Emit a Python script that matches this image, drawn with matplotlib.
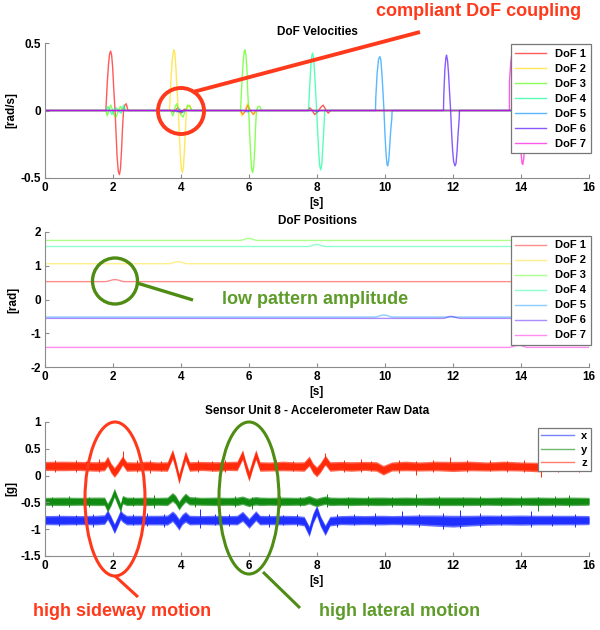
import numpy as np
import matplotlib
matplotlib.use("Agg")
import matplotlib.pyplot as plt
from matplotlib.patches import Ellipse

plt.rcParams['font.family'] = ['Liberation Sans', 'DejaVu Sans']
plt.rcParams['font.weight'] = 'bold'
plt.rcParams['axes.unicode_minus'] = False

# ---------------- data ----------------
dof_labels = ['DoF 1', 'DoF 2', 'DoF 3', 'DoF 4', 'DoF 5', 'DoF 6', 'DoF 7']
# MATLAB hsv(7)
dof_colors = [(1, 0, 0), (1, 0.857, 0), (0.286, 1, 0), (0, 1, 0.571),
              (0, 0.571, 1), (0.286, 0, 1), (1, 0, 0.857)]

# DoF velocities [rad/s]
vel1_t = [0, 1.79, 1.83, 1.87, 1.90, 1.93, 1.96, 1.99, 2.02, 2.06, 2.09, 2.12, 2.155, 2.19, 2.22, 2.25, 2.28, 2.31,
          2.35, 2.39, 2.44, 3.70, 3.80, 3.90, 4.00, 4.10, 4.20, 5.75, 5.81, 5.88, 5.96, 6.04, 6.13, 6.20,
          7.72, 7.79, 7.86, 7.93, 8.02, 8.10, 8.18, 8.25, 8.33, 8.40, 16]
vel1_v = [0, 0, 0.2, 0.35, 0.42, 0.44, 0.41, 0.32, 0.17, 0, -0.17, -0.34, -0.45, -0.475, -0.43, -0.3, -0.13, 0,
          0.04, 0.05, 0, 0, -0.01, 0.02, -0.02, 0.01, 0, 0, -0.03, -0.01, 0.04, 0.0, -0.03, 0,
          0, 0.02, 0.0, -0.03, -0.01, 0.02, 0.04, 0.01, -0.02, 0, 0]

vel2_t = [0, 3.66, 3.70, 3.74, 3.77, 3.79, 3.82, 3.85, 3.88, 3.92, 3.95, 3.98, 4.01, 4.04, 4.07, 4.10, 4.13, 4.16,
          4.21, 4.26, 4.31, 5.75, 5.79, 5.88, 5.96, 6.04, 6.13, 6.20, 16]
vel2_v = [0, 0, 0.2, 0.37, 0.43, 0.45, 0.42, 0.32, 0.17, 0, -0.17, -0.33, -0.43, -0.46, -0.42, -0.3, -0.14, 0,
          0.03, 0.04, 0, 0, -0.04, 0.0, 0.05, 0.0, -0.03, 0, 0]

vel3_t = [0, 1.79, 1.83, 1.88, 1.93, 1.98, 2.04, 2.10, 2.16, 2.22, 2.28,
          3.70, 3.76, 3.82, 3.87, 3.93, 3.99, 4.06, 4.13, 4.20, 4.26, 4.32,
          5.75, 5.79, 5.83, 5.86, 5.88, 5.91, 5.94, 5.96, 5.99, 6.02, 6.05, 6.08, 6.11, 6.14, 6.17, 6.19, 6.22,
          6.27, 6.32, 6.37, 16]
vel3_v = [0, 0, -0.04, 0.0, 0.04, 0.01, -0.04, -0.045, 0.0, 0.03, 0,
          0, -0.04, 0.02, 0.05, 0.01, -0.03, -0.05, 0.0, 0.04, 0.03, 0,
          0, 0.2, 0.37, 0.44, 0.45, 0.41, 0.3, 0.15, 0, -0.17, -0.33, -0.44, -0.46, -0.41, -0.28, -0.14, 0,
          0.03, 0.03, 0, 0]

vel4_t = [0, 1.80, 1.85, 1.91, 1.97, 2.03, 2.09, 2.16, 2.24, 2.31, 2.37,
          7.75, 7.79, 7.82, 7.85, 7.87, 7.90, 7.93, 7.96, 7.99, 8.02, 8.05, 8.08, 8.11, 8.14, 8.17, 8.20, 8.23, 16]
vel4_v = [0, 0, 0.03, 0.0, -0.03, 0.0, 0.02, 0.0, -0.02, 0.04, 0,
          0, 0.2, 0.34, 0.41, 0.425, 0.39, 0.28, 0.14, 0, -0.16, -0.31, -0.41, -0.44, -0.4, -0.28, -0.14, 0, 0]

vel5_t = [0, 3.80, 3.88, 3.96, 4.04, 4.12, 5.85, 5.95, 6.05, 7.90, 8.00, 8.10,
          9.72, 9.73, 9.77, 9.81, 9.85, 9.88, 9.91, 9.94, 9.97, 10.00, 10.03, 10.06, 10.08, 10.11, 10.14,
          10.17, 10.20, 10.21, 16]
vel5_v = [0, 0, -0.01, 0.01, -0.015, 0, 0, -0.01, 0, 0, -0.01, 0,
          0, 0.1, 0.28, 0.38, 0.40, 0.37, 0.27, 0.14, 0, -0.18, -0.32, -0.40, -0.41, -0.37, -0.26,
          -0.14, -0.06, 0, 0]

vel6_t = [0, 3.85, 3.95, 4.05, 11.72, 11.73, 11.76, 11.79, 11.81, 11.84, 11.87, 11.90, 11.93, 11.96, 11.99,
          12.02, 12.06, 12.09, 12.12, 12.15, 12.18, 12.19, 16]
vel6_v = [0, 0, -0.01, 0, 0, 0.12, 0.3, 0.39, 0.41, 0.37, 0.27, 0.13, 0, -0.17, -0.3,
          -0.38, -0.41, -0.39, -0.3, -0.17, -0.07, 0, 0]

vel7_t = [0, 13.66, 13.662, 13.70, 13.73, 13.76, 13.79, 13.82, 13.86, 13.90, 13.94, 13.97, 14.00, 14.03,
          14.05, 14.08, 14.11, 14.14, 14.17, 16]
vel7_v = [0, 0, 0.22, 0.36, 0.42, 0.38, 0.40, 0.33, 0.19, 0.06, 0, -0.17, -0.31, -0.39,
          -0.40, -0.36, -0.25, -0.12, 0, 0]

# DoF positions [rad]
pos1_t = [0, 1.79, 1.86, 1.93, 2.00, 2.06, 2.12, 2.19, 2.25, 2.31, 16]
pos1_v = [0.53, 0.53, 0.545, 0.565, 0.585, 0.59, 0.585, 0.565, 0.545, 0.53, 0.53]
pos2_t = [0, 3.66, 3.72, 3.79, 3.86, 3.92, 3.98, 4.04, 4.10, 4.16, 16]
pos2_v = [1.06, 1.06, 1.075, 1.095, 1.115, 1.12, 1.115, 1.095, 1.075, 1.06, 1.06]
pos3_t = [0, 5.75, 5.81, 5.87, 5.93, 5.99, 6.05, 6.11, 6.17, 6.22, 16]
pos3_v = [1.75, 1.75, 1.765, 1.785, 1.805, 1.81, 1.805, 1.785, 1.765, 1.75, 1.75]
pos4_t = [0, 7.75, 7.81, 7.87, 7.93, 7.99, 8.05, 8.11, 8.17, 8.23, 16]
pos4_v = [1.57, 1.57, 1.585, 1.605, 1.625, 1.63, 1.625, 1.605, 1.585, 1.57, 1.57]
pos5_t = [0, 9.72, 9.78, 9.85, 9.91, 9.97, 10.03, 10.09, 10.15, 10.21, 16]
pos5_v = [-0.52, -0.52, -0.505, -0.485, -0.465, -0.46, -0.465, -0.485, -0.505, -0.52, -0.52]
pos6_t = [0, 11.72, 11.78, 11.84, 11.89, 11.93, 11.99, 12.06, 12.13, 12.19, 16]
pos6_v = [-0.56, -0.56, -0.545, -0.525, -0.505, -0.5, -0.505, -0.525, -0.545, -0.56, -0.56]
pos7_t = [0, 13.66, 13.73, 13.80, 13.87, 13.94, 14.00, 14.05, 14.11, 14.17, 16]
pos7_v = [-1.42, -1.42, -1.405, -1.385, -1.365, -1.36, -1.365, -1.385, -1.405, -1.42, -1.42]

# accelerometer raw data [g]: band centre and noise half width at knots
acc_t = [0, 0.5, 1.0, 1.5,
         1.75, 1.84, 1.94, 2.04, 2.14, 2.22, 2.28, 2.4,
         2.7, 3.0, 3.3,
         3.6, 3.75, 3.84, 3.94, 4.03, 4.13, 4.25,
         4.6, 5.0, 5.4,
         5.65, 5.81, 5.9, 6.0, 6.1, 6.2, 6.32,
         6.6, 7.0, 7.4,
         7.62, 7.77, 7.88, 7.99, 8.1, 8.24, 8.38,
         8.7, 9.0, 9.4, 9.75, 9.95, 10.2, 10.6, 11.0, 11.5, 12.0, 12.5, 13.0, 13.5, 14.0, 14.5, 15.0, 15.5, 16.0]
acc_z = [0.18, 0.18, 0.18, 0.17,
         0.18, 0.27, 0.14, 0.06, 0.14, 0.22, 0.28, 0.17,
         0.17, 0.18, 0.17,
         0.17, 0.40, 0.20, -0.06, 0.15, 0.37, 0.17,
         0.18, 0.17, 0.18,
         0.18, 0.39, 0.18, -0.01, 0.20, 0.39, 0.17,
         0.17, 0.18, 0.17,
         0.17, 0.27, 0.14, 0.07, 0.15, 0.29, 0.17,
         0.18, 0.17, 0.18, 0.17, 0.10, 0.17, 0.18, 0.17, 0.18, 0.17, 0.18, 0.17, 0.18, 0.17, 0.16, 0.17, 0.18, 0.17]
acc_y = [-0.48, -0.48, -0.48, -0.48,
         -0.48, -0.60, -0.48, -0.32, -0.48, -0.60, -0.45, -0.48,
         -0.48, -0.48, -0.48,
         -0.48, -0.40, -0.45, -0.56, -0.48, -0.41, -0.47,
         -0.48, -0.48, -0.48,
         -0.48, -0.46, -0.48, -0.50, -0.48, -0.47, -0.48,
         -0.48, -0.48, -0.48,
         -0.48, -0.45, -0.48, -0.50, -0.48, -0.46, -0.48,
         -0.48, -0.48, -0.48, -0.48, -0.48, -0.48, -0.48, -0.48, -0.48, -0.48, -0.48, -0.48, -0.48, -0.48, -0.48,
         -0.48, -0.48, -0.48]
acc_x = [-0.83, -0.83, -0.83, -0.83,
         -0.82, -0.73, -0.85, -0.99, -0.85, -0.73, -0.78, -0.83,
         -0.83, -0.83, -0.83,
         -0.83, -0.76, -0.82, -0.91, -0.82, -0.77, -0.83,
         -0.83, -0.83, -0.83,
         -0.83, -0.76, -0.82, -0.89, -0.82, -0.75, -0.83,
         -0.83, -0.83, -0.83,
         -0.85, -1.04, -0.80, -0.65, -0.85, -1.02, -0.85,
         -0.83, -0.83, -0.83, -0.83, -0.83, -0.83, -0.83, -0.83, -0.84, -0.85, -0.84, -0.83, -0.83, -0.83, -0.83,
         -0.83, -0.83, -0.83]
acc_wz = [0.085, 0.09, 0.085, 0.09,
          0.09, 0.095, 0.095, 0.095, 0.095, 0.095, 0.09, 0.09,
          0.085, 0.09, 0.085,
          0.09, 0.095, 0.1, 0.1, 0.095, 0.095, 0.09,
          0.085, 0.09, 0.085,
          0.09, 0.095, 0.1, 0.1, 0.095, 0.095, 0.09,
          0.085, 0.09, 0.085,
          0.09, 0.095, 0.095, 0.095, 0.095, 0.095, 0.09,
          0.085, 0.09, 0.085, 0.09, 0.09, 0.085, 0.09, 0.085, 0.09, 0.095, 0.09, 0.085, 0.09, 0.085, 0.09, 0.085,
          0.09, 0.085]
acc_wy = [0.075, 0.08, 0.075, 0.08,
          0.08, 0.085, 0.085, 0.085, 0.085, 0.085, 0.08, 0.08,
          0.075, 0.08, 0.075,
          0.08, 0.085, 0.085, 0.085, 0.085, 0.085, 0.08,
          0.075, 0.08, 0.075,
          0.08, 0.08, 0.08, 0.08, 0.08, 0.08, 0.08,
          0.075, 0.08, 0.075,
          0.08, 0.08, 0.08, 0.08, 0.08, 0.08, 0.08,
          0.075, 0.08, 0.075, 0.08, 0.08, 0.075, 0.08, 0.075, 0.08, 0.08, 0.08, 0.075, 0.08, 0.075, 0.08, 0.075,
          0.08, 0.075]
acc_wx = [0.085, 0.09, 0.085, 0.09,
          0.09, 0.095, 0.095, 0.095, 0.095, 0.095, 0.09, 0.09,
          0.09, 0.09, 0.09,
          0.095, 0.1, 0.11, 0.11, 0.1, 0.1, 0.09,
          0.085, 0.09, 0.085,
          0.09, 0.095, 0.095, 0.095, 0.095, 0.095, 0.09,
          0.085, 0.09, 0.085,
          0.09, 0.1, 0.1, 0.1, 0.1, 0.1, 0.09,
          0.085, 0.09, 0.085, 0.09, 0.09, 0.085, 0.09, 0.095, 0.105, 0.11, 0.1, 0.095, 0.09, 0.095, 0.09, 0.09,
          0.09, 0.085]

# single noise spikes (time, low, high)
z_spk_t = [0.3, 0.9, 1.2, 1.6, 2.28, 2.7, 3.1, 3.4, 4.5, 4.9, 5.3, 6.8, 7.3, 8.24, 8.8, 9.3, 9.6, 10.4,
           10.9, 11.4, 11.9, 12.4, 13.1, 13.6, 14.1, 14.6, 15.1, 15.7]
z_spk_lo = [0.07, 0.06, 0.08, 0.07, 0.20, 0.07, 0.05, 0.08, 0.06, 0.08, 0.07, 0.06, 0.08, 0.20, 0.07, 0.06,
            0.08, 0.05, 0.02, 0.07, 0.10, 0.06, 0.08, 0.07, 0.06, -0.02, 0.07, 0.06]
z_spk_hi = [0.29, 0.30, 0.28, 0.31, 0.45, 0.29, 0.30, 0.28, 0.30, 0.27, 0.29, 0.30, 0.28, 0.42, 0.29, 0.31,
            0.28, 0.29, 0.28, 0.30, 0.34, 0.29, 0.30, 0.28, 0.29, 0.27, 0.30, 0.29]
y_spk_t = [0.2, 0.7, 1.3, 2.6, 3.2, 4.4, 5.1, 5.6, 6.1, 6.9, 7.5, 8.3, 8.9, 9.5, 10.2, 10.9, 11.6, 12.3,
           12.8, 13.4, 14.0, 14.5, 15.0, 15.4]
y_spk_lo = [-0.58, -0.59, -0.58, -0.57, -0.60, -0.58, -0.57, -0.59, -0.62, -0.58, -0.57, -0.58, -0.60, -0.57,
            -0.58, -0.59, -0.60, -0.58, -0.59, -0.57, -0.58, -0.66, -0.58, -0.59]
y_spk_hi = [-0.39, -0.38, -0.39, -0.40, -0.37, -0.39, -0.40, -0.38, -0.39, -0.38, -0.39, -0.35, -0.39, -0.38,
            -0.39, -0.35, -0.38, -0.39, -0.38, -0.39, -0.38, -0.40, -0.38, -0.37]
x_spk_t = [0.4, 0.9, 1.4, 2.6, 3.0, 3.5, 4.55, 5.0, 5.4, 6.6, 7.0, 7.4, 8.6, 9.1, 9.7, 10.5, 11.0, 11.7,
           12.2, 12.8, 13.4, 14.3, 14.9, 15.6]
x_spk_lo = [-0.94, -0.93, -0.95, -0.93, -0.94, -0.95, -0.97, -0.93, -0.94, -0.95, -0.93, -0.94, -0.95, -0.93,
            -0.94, -0.95, -0.96, -0.99, -0.98, -0.95, -0.93, -0.96, -0.94, -0.95]
x_spk_hi = [-0.72, -0.73, -0.71, -0.72, -0.70, -0.72, -0.63, -0.72, -0.71, -0.72, -0.73, -0.72, -0.71, -0.72,
            -0.70, -0.66, -0.71, -0.69, -0.64, -0.70, -0.72, -0.66, -0.71, -0.72]

acc_labels = ['x', 'y', 'z']
acc_colors = ['#1f2fff', '#108a10', '#ff2a0a']

# ---------------- figure ----------------
fig = plt.figure(figsize=(6, 6.3), dpi=100)
ax1 = fig.add_axes([45 / 600, 1 - 178 / 630, 544 / 600, 135 / 630])
ax2 = fig.add_axes([45 / 600, 1 - 367 / 630, 544 / 600, 135 / 630])
ax3 = fig.add_axes([45 / 600, 1 - 556 / 630, 544 / 600, 134 / 630])

gray = '#8c8c8c'


def style(ax):
    ax.spines['top'].set_visible(False)
    ax.spines['right'].set_visible(False)
    ax.spines['left'].set_color(gray)
    ax.spines['bottom'].set_color(gray)
    ax.tick_params(direction='in', length=3, color=gray, labelsize=8.5, pad=3)
    for lab in ax.get_xticklabels() + ax.get_yticklabels():
        lab.set_fontweight('bold')
    ax.set_xlim(0, 16)
    ax.set_xticks(range(0, 17, 2))
    ax.set_xlabel('[s]', fontsize=8.5, fontweight='bold', labelpad=2)


def legend(ax, y_top, **kw):
    leg = ax.legend(loc='upper right', bbox_to_anchor=(1.003, y_top), frameon=True, fancybox=False,
                    framealpha=1, edgecolor='#777777', borderaxespad=0, prop={'size': 8, 'weight': 'bold'},
                    **kw)
    leg.get_frame().set_linewidth(0.9)
    return leg


# velocities
vel_t = [vel1_t, vel2_t, vel3_t, vel4_t, vel5_t, vel6_t, vel7_t]
vel_v = [vel1_v, vel2_v, vel3_v, vel4_v, vel5_v, vel6_v, vel7_v]
for i in range(7):
    ax1.plot(vel_t[i], vel_v[i], color=dof_colors[i], lw=1.0, alpha=0.65, label=dof_labels[i])
ax1.set_ylim(-0.5, 0.5)
ax1.set_yticks([-0.5, 0, 0.5])
ax1.set_yticklabels(['-0.5', '0', '0.5'])
style(ax1)
ax1.set_ylabel('[rad/s]', fontsize=8.5, fontweight='bold', labelpad=2)
ax1.set_title('DoF Velocities', fontsize=8.5, fontweight='bold', pad=6)
legend(ax1, 0.99, handlelength=2.8, labelspacing=0.45, borderpad=0.4, handletextpad=0.8)

# positions
pos_t = [pos1_t, pos2_t, pos3_t, pos4_t, pos5_t, pos6_t, pos7_t]
pos_v = [pos1_v, pos2_v, pos3_v, pos4_v, pos5_v, pos6_v, pos7_v]
for i in range(7):
    ax2.plot(pos_t[i], pos_v[i], color=dof_colors[i], lw=1.0, alpha=0.45, label=dof_labels[i])
ax2.set_ylim(-2, 2)
ax2.set_yticks([-2, -1, 0, 1, 2])
style(ax2)
ax2.set_ylabel('[rad]', fontsize=8.5, fontweight='bold', labelpad=8)
ax2.set_title('DoF Positions', fontsize=8.5, fontweight='bold', pad=6)
legend(ax2, 0.97, handlelength=2.8, labelspacing=0.45, borderpad=0.4, handletextpad=0.8)

# accelerometer
acc_c = [acc_x, acc_y, acc_z]
acc_w = [acc_wx, acc_wy, acc_wz]
spk = [(x_spk_t, x_spk_lo, x_spk_hi), (y_spk_t, y_spk_lo, y_spk_hi), (z_spk_t, z_spk_lo, z_spk_hi)]
for i in range(3):
    c = np.array(acc_c[i])
    w = np.array(acc_w[i])
    ax3.fill_between(acc_t, c - w, c + w, color=acc_colors[i], alpha=0.7, lw=0)
    ax3.fill_between(acc_t, c - 0.7 * w, c + 0.7 * w, color=acc_colors[i], lw=0)
    ax3.vlines(spk[i][0], spk[i][1], spk[i][2], color=acc_colors[i], lw=0.7)
    ax3.plot([], [], color=acc_colors[i], alpha=0.6, lw=1.0, label=acc_labels[i])
ax3.set_ylim(-1.5, 1)
ax3.set_yticks([-1.5, -1, -0.5, 0, 0.5, 1])
ax3.set_yticklabels(['-1.5', '-1', '-0.5', '0', '0.5', '1'])
style(ax3)
ax3.set_ylabel('[g]', fontsize=8.5, fontweight='bold', labelpad=2)
ax3.set_title('Sensor Unit 8 - Accelerometer Raw Data', fontsize=8.5, fontweight='bold', pad=6)
legend(ax3, 0.955, handlelength=3.0, labelspacing=0.3, borderpad=0.3, handletextpad=0.6)

# ---------------- annotations (figure pixels, y down) ----------------
red = '#ff3a1c'
green_txt = '#5e9c2a'
green = '#4f8c14'
ov = fig.add_axes([0, 0, 1, 1], zorder=10)
ov.set_xlim(0, 600)
ov.set_ylim(630, 0)
ov.axis('off')
ov.patch.set_alpha(0)

ov.add_patch(Ellipse((181, 111), 46, 46, fill=False, ec=red, lw=2.8))
ov.plot([193, 420], [92, 32], color=red, lw=2.8, solid_capstyle='butt')
ov.text(479, 12, 'compliant DoF coupling', color=red, fontsize=13, fontweight='bold', ha='center', va='center')

ov.add_patch(Ellipse((115, 281), 45, 46, fill=False, ec=green, lw=2.4))
ov.plot([137, 193], [283, 300], color=green, lw=2.4, solid_capstyle='butt')
ov.text(315, 299, 'low pattern amplitude', color=green_txt, fontsize=13, fontweight='bold', ha='center', va='center')

ov.add_patch(Ellipse((115, 499), 60, 154, fill=False, ec=red, lw=2.2))
ov.plot([115, 138], [576, 597], color=red, lw=2.2, solid_capstyle='butt')
ov.text(122, 612, 'high sideway motion', color=red, fontsize=13, fontweight='bold', ha='center', va='center')

ov.add_patch(Ellipse((249, 498), 60, 152, fill=False, ec=green, lw=2.2))
ov.plot([263, 300], [572, 608], color=green, lw=2.2, solid_capstyle='butt')
ov.text(400, 612, 'high lateral motion', color=green_txt, fontsize=13, fontweight='bold', ha='center', va='center')

fig.savefig('out.png', dpi=100)
